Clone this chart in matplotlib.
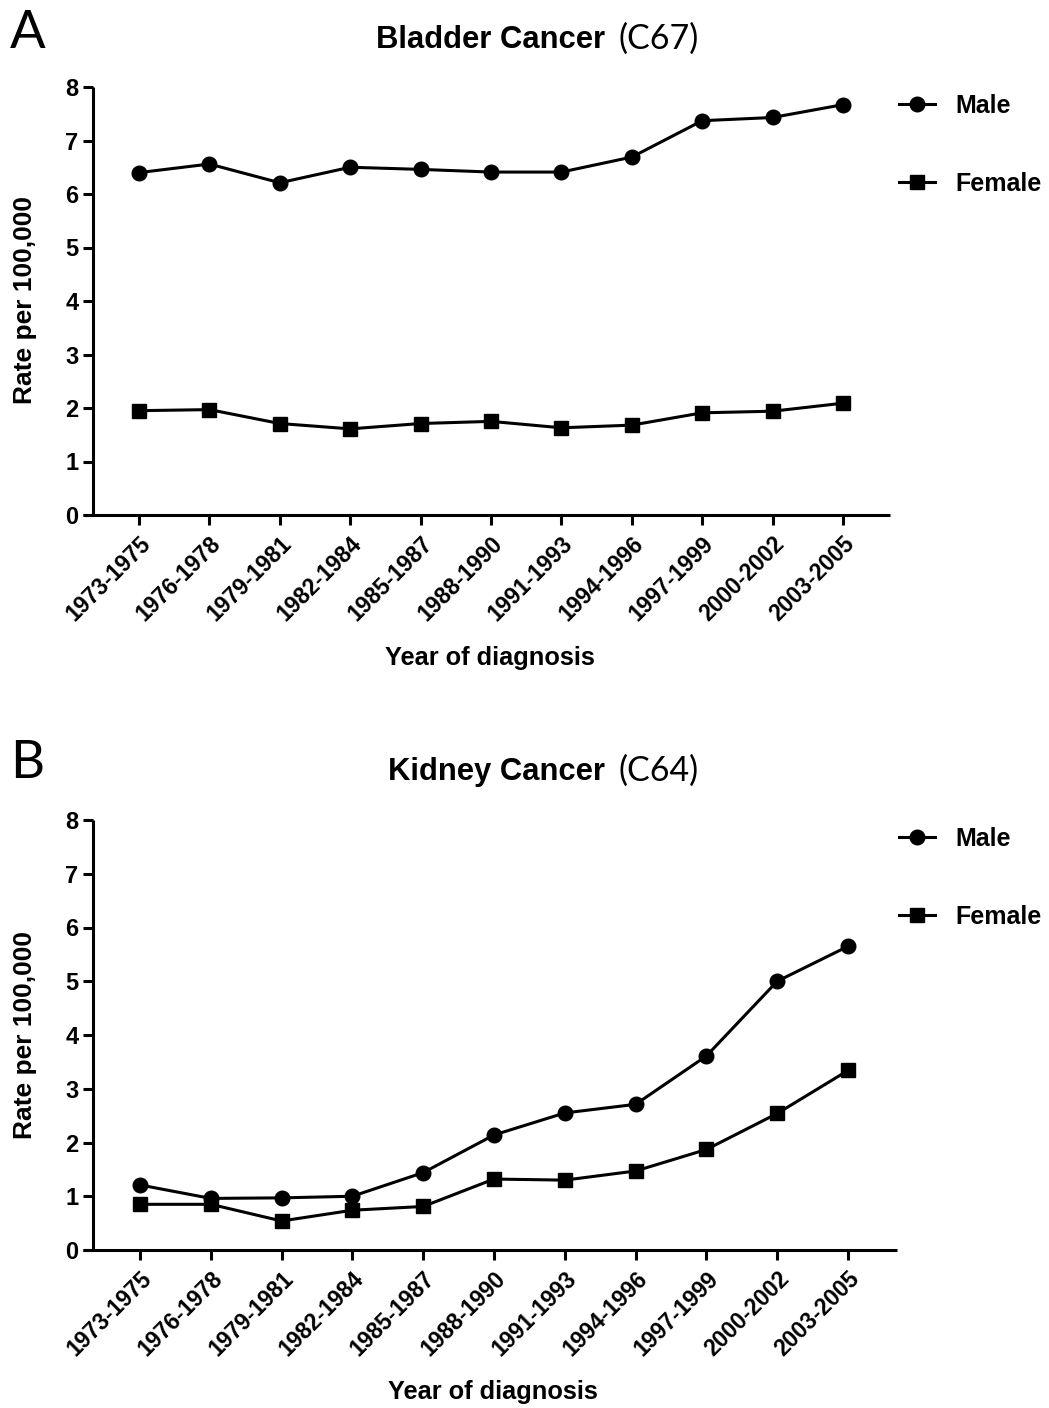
import matplotlib
matplotlib.use("Agg")
import matplotlib.pyplot as plt
from matplotlib.lines import Line2D

periods = ["1973-1975", "1976-1978", "1979-1981", "1982-1984", "1985-1987",
           "1988-1990", "1991-1993", "1994-1996", "1997-1999", "2000-2002", "2003-2005"]

bladder_male = [6.40, 6.56, 6.21, 6.50, 6.46, 6.41, 6.41, 6.69, 7.37, 7.43, 7.67]
bladder_female = [1.95, 1.97, 1.71, 1.61, 1.71, 1.75, 1.63, 1.68, 1.91, 1.94, 2.09]

kidney_male = [1.21, 0.96, 0.97, 1.00, 1.44, 2.14, 2.55, 2.71, 3.61, 5.00, 5.65]
kidney_female = [0.85, 0.85, 0.54, 0.74, 0.81, 1.32, 1.30, 1.47, 1.87, 2.54, 3.34]

yticks = [0, 1, 2, 3, 4, 5, 6, 7, 8]

W, H = 1049, 1408
fig = plt.figure(figsize=(W / 100, H / 100), dpi=100)

BOLD = dict(family="Liberation Sans", weight="bold")
LW = 2.2


def px_axes(left, right, top, bottom):
    return fig.add_axes([left / W, 1 - bottom / H, (right - left) / W, (bottom - top) / H])


def panel(ax, male, female, first_tick, spacing, yaxis_x, ax_left, ax_right):
    n = len(periods)
    x = list(range(n))
    ax.plot(x, male, color="black", lw=LW, marker="o", ms=10.5, clip_on=False, zorder=3)
    ax.plot(x, female, color="black", lw=LW, marker="s", ms=10.5, clip_on=False, zorder=3)
    xl = (ax_left - first_tick) / spacing
    xr = (ax_right - first_tick) / spacing
    ax.set_xlim(xl, xr)
    ax.set_ylim(0, 8)
    ax.spines["top"].set_visible(False)
    ax.spines["right"].set_visible(False)
    ax.spines["left"].set_position(("data", (yaxis_x - first_tick) / spacing))
    for s in ("left", "bottom"):
        ax.spines[s].set_linewidth(LW)
        ax.spines[s].set_capstyle("butt")
    ax.set_xticks(x)
    ax.set_xticklabels(periods, rotation=45, ha="right", rotation_mode="anchor",
                       fontsize=16.5, **BOLD)
    ax.set_yticks(yticks)
    ax.set_yticklabels([str(v) for v in yticks], fontsize=17, **BOLD)
    ax.tick_params(axis="both", length=7.5, width=LW, color="black")
    ax.tick_params(axis="x", pad=5)
    ax.tick_params(axis="y", pad=3)
    ax.set_xlabel("Year of diagnosis", fontsize=18.3, **BOLD)
    ax.set_ylabel("Rate per 100,000", fontsize=19, **BOLD)
    ax.patch.set_visible(False)


# Panel A
axA = px_axes(83, 890, 87, 515)
panel(axA, bladder_male, bladder_female, 139, 70.4, 93, 83, 890)
# Panel B
axB = px_axes(83, 897, 820, 1250)
panel(axB, kidney_male, kidney_female, 140, 70.8, 93, 83, 897)

axA.xaxis.set_label_coords((490 - 83) / (890 - 83), -(658 - 515) / (515 - 87))
axB.xaxis.set_label_coords((493 - 83) / (897 - 83), -(1392 - 1250) / (1250 - 820))
axA.yaxis.set_label_coords(-(83 - 25) / (890 - 83), (515 - 300) / (515 - 87))
axB.yaxis.set_label_coords(-(83 - 25) / (897 - 83), (1250 - 1035) / (1250 - 820))
for a in (axA, axB):
    a.xaxis.label.set_va("center")
    a.yaxis.label.set_va("center")


def title(xright, xleft2, yc, bold_txt, code):
    fig.text(xright / W, 1 - yc / H, bold_txt, ha="right", va="center", fontsize=22.3, **BOLD)
    fig.text(xleft2 / W, 1 - (yc - 1) / H, code, ha="left", va="center", fontsize=24.5,
             family="Lato")

title(605, 619, 40, "Bladder Cancer", "(C67)")
title(605, 619, 772, "Kidney Cancer", "(C64)")

# Panel letters
fig.text(10 / W, 1 - 33 / H, "A", ha="left", va="center", fontsize=38, family="Lato")
fig.text(10 / W, 1 - 764 / H, "B", ha="left", va="center", fontsize=38, family="Lato")

# Legends
handles = [Line2D([], [], color="black", lw=LW, marker="o", ms=10.5),
           Line2D([], [], color="black", lw=LW, marker="s", ms=10.5)]
for ytop in (94, 827):
    fig.legend(handles, ["Male", "Female"], loc="upper left",
               bbox_to_anchor=(899 / W, 1 - ytop / H), frameon=False,
               prop=dict(family="Liberation Sans", weight="bold", size=18),
               handlelength=1.45, handletextpad=0.8, labelspacing=2.15,
               borderpad=0, borderaxespad=0)

fig.savefig("out.png", dpi=100)
